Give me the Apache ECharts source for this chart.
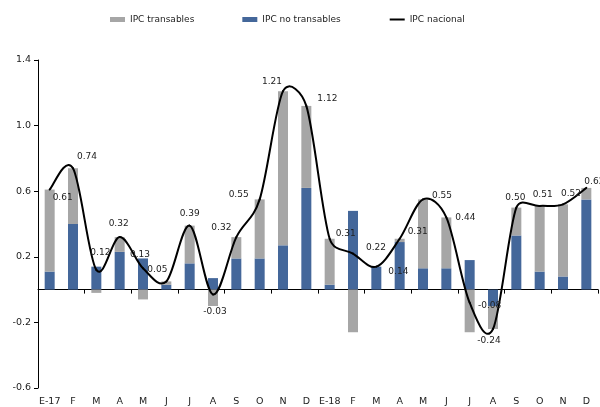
<!DOCTYPE html>
<html>
<head>
<meta charset="utf-8">
<script src="https://cdn.jsdelivr.net/npm/echarts@6/dist/echarts.min.js"></script>
<style>
  html, body { margin: 0; padding: 0; background: #fff; }
  #chart { width: 600px; height: 407px; }
</style>
</head>
<body>
<div id="chart"></div>
<script>
// meses
var months = ['E-17', 'F', 'M', 'A', 'M', 'J', 'J', 'A', 'S', 'O', 'N', 'D',
              'E-18', 'F', 'M', 'A', 'M', 'J', 'J', 'A', 'S', 'O', 'N', 'D'];
// contribuciones
var noTransables = [0.11, 0.40, 0.14, 0.23, 0.19, 0.03, 0.16, 0.07, 0.19, 0.19, 0.27, 0.62,
                    0.03, 0.48, 0.14, 0.29, 0.13, 0.13, 0.18, -0.10, 0.33, 0.11, 0.08, 0.55];
var transables = [0.50, 0.34, -0.02, 0.09, -0.06, 0.02, 0.23, -0.10, 0.13, 0.36, 0.94, 0.50,
                  0.28, -0.26, 0.00, 0.02, 0.42, 0.31, -0.26, -0.14, 0.17, 0.40, 0.44, 0.07];
var nacional = [0.61, 0.74, 0.12, 0.32, 0.13, 0.05, 0.39, -0.03, 0.32, 0.55, 1.21, 1.12,
                0.31, 0.22, 0.14, 0.31, 0.55, 0.44, -0.08, -0.24, 0.50, 0.51, 0.52, 0.62];
var yTicks = [-0.6, -0.2, 0.2, 0.6, 1.0, 1.4];

// desplazamiento de etiquetas (px) respecto al punto
var labelOffsets = [[13, 8], [14, -12], [4, -17], [-1, -13], [-3, -14], [-9, -12],
                    [0, -12], [2, 17], [-15, -9], [-21, -5], [-11, -10], [21, -7],
                    [16, -5], [23, -6], [22, 5], [18, -7], [19, -4], [19, 0],
                    [20, 3], [-4, 12], [-1, -10], [3, -11], [8, -11], [8, -6]];

var font = 'DejaVu Sans';
var txt = '#222';

var lineData = [];
var curveData = [];
for (var i = 0; i < nacional.length; i++) {
    lineData.push({
        value: nacional[i],
        label: { offset: labelOffsets[i] }
    });
    curveData.push([i, nacional[i]]);
}

// curva suavizada tipo excel, un tramo por punto
function renderCurve(params, api) {
    var i = params.dataIndex;
    var n = nacional.length;
    if (i >= n - 1) return null;
    var p = function (k) {
        k = Math.max(0, Math.min(n - 1, k));
        return api.coord([k, nacional[k]]);
    };
    var p0 = p(i - 1), p1 = p(i), p2 = p(i + 1), p3 = p(i + 2);
    var seg = Math.hypot(p2[0] - p1[0], p2[1] - p1[1]);
    var da = Math.hypot(p2[0] - p0[0], p2[1] - p0[1]) || 1;
    var db = Math.hypot(p3[0] - p1[0], p3[1] - p1[1]) || 1;
    var fa = Math.min(1 / 6, 0.5 * seg / da);
    var fb = Math.min(1 / 6, 0.5 * seg / db);
    return {
        type: 'bezierCurve',
        shape: {
            x1: p1[0], y1: p1[1],
            x2: p2[0], y2: p2[1],
            cpx1: p1[0] + (p2[0] - p0[0]) * fa,
            cpy1: p1[1] + (p2[1] - p0[1]) * fa,
            cpx2: p2[0] - (p3[0] - p1[0]) * fb,
            cpy2: p2[1] - (p3[1] - p1[1]) * fb
        },
        style: { fill: null, stroke: '#000', lineWidth: 2, lineCap: 'round' }
    };
}

var myChart = echarts.init(document.getElementById('chart'));
var option = {
    animation: false,
    textStyle: { fontFamily: font },
    legend: {
        top: 15,
        left: 110,
        padding: 0,
        itemGap: 48,
        itemWidth: 15,
        itemHeight: 5,
        textStyle: { fontSize: 9, color: txt, fontFamily: font },
        data: [
            { name: 'IPC transables', icon: 'rect' },
            { name: 'IPC no transables', icon: 'rect' },
            { name: 'IPC nacional', itemStyle: { opacity: 0 }, lineStyle: { opacity: 1, width: 2, color: '#000' } }
        ]
    },
    grid: { left: 38, right: 2, top: 60, bottom: 17 },
    xAxis: [
        {
            type: 'category',
            data: months,
            axisLine: { onZero: true, lineStyle: { color: '#000', width: 1 } },
            axisTick: { show: true, length: 4, lineStyle: { color: '#000' } },
            axisLabel: { show: false }
        },
        {
            type: 'category',
            data: months,
            position: 'bottom',
            axisLine: { show: false, onZero: false },
            axisTick: { show: false },
            axisLabel: { color: txt, fontSize: 9.5, fontFamily: font, margin: 9, interval: 0 }
        }
    ],
    yAxis: {
        type: 'value',
        min: -0.6,
        max: 1.4,
        splitLine: { show: false },
        axisLine: { show: true, lineStyle: { color: '#000' } },
        axisTick: { show: true, length: 4, lineStyle: { color: '#000' }, customValues: yTicks },
        axisLabel: {
            color: txt, fontSize: 9.5, fontFamily: font, margin: 7,
            customValues: yTicks,
            formatter: function (v) { return v.toFixed(1); }
        }
    },
    series: [
        {
            name: 'IPC no transables',
            type: 'bar',
            stack: 'ipc',
            barWidth: 10,
            itemStyle: { color: '#44679A' },
            data: noTransables
        },
        {
            name: 'IPC transables',
            type: 'bar',
            stack: 'ipc',
            barWidth: 10,
            itemStyle: { color: '#A6A6A6' },
            data: transables
        },
        {
            name: 'curva',
            type: 'custom',
            renderItem: renderCurve,
            encode: { x: 0, y: 1 },
            z: 4,
            silent: true,
            data: curveData
        },
        {
            name: 'IPC nacional',
            type: 'line',
            symbol: 'circle',
            symbolSize: 1,
            showSymbol: true,
            z: 5,
            itemStyle: { color: 'rgba(0,0,0,0)' },
            lineStyle: { color: '#000', width: 2, opacity: 0 },
            label: {
                show: true,
                position: 'inside',
                color: txt,
                fontSize: 9,
                fontFamily: font,
                formatter: function (p) { return p.value.toFixed(2); }
            },
            data: lineData
        }
    ]
};
myChart.setOption(option);
</script>
</body>
</html>
